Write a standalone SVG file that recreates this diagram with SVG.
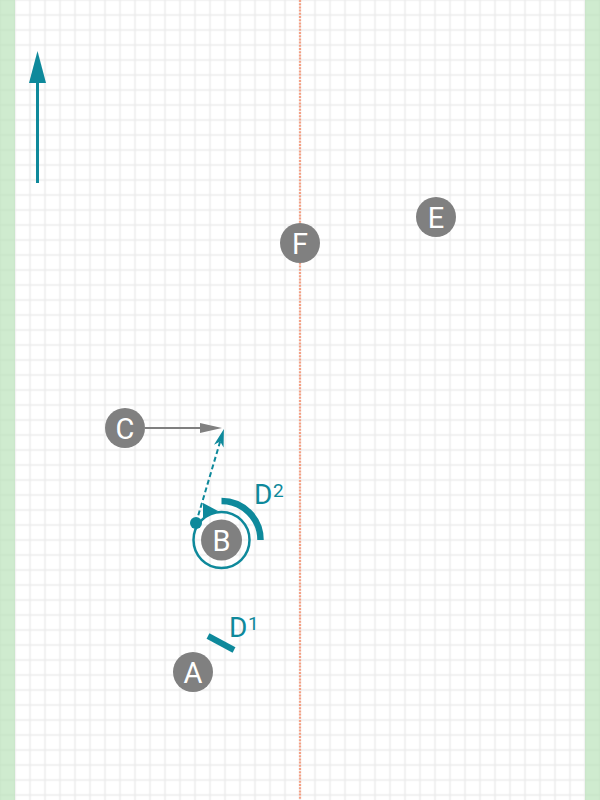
<svg xmlns="http://www.w3.org/2000/svg" width="600" height="800" viewBox="0 0 600 800">
  <style>
    .node circle { fill: #808080; }
    .node text { fill: #ffffff; font-family: Roboto, "Liberation Sans", sans-serif; font-size: 29px; font-weight: 400; text-anchor: middle; }
    .teal { fill: none; stroke: #0e899b; }
    .lbl { fill: #0e899b; font-family: Roboto, "Liberation Sans", sans-serif; font-weight: 400; }
  </style>
  <defs>
    <pattern id="grid" patternUnits="userSpaceOnUse" x="-7.5" y="-7.5" width="15" height="15">
      <path d="M7.5 0 V15 M0 7.5 H15" stroke="#ebebeb" stroke-width="1.5" fill="none"/>
    </pattern>
    <marker id="tealHead" viewBox="0 0 18 10" refX="5" refY="5" markerWidth="18" markerHeight="10" markerUnits="userSpaceOnUse" orient="auto">
      <path d="M0,0 L18,5 L0,10 L5,5 z" fill="#0e899b"/>
    </marker>
    <marker id="greyHead" viewBox="0 0 22 10" refX="0" refY="5" markerWidth="22" markerHeight="10" markerUnits="userSpaceOnUse" orient="auto">
      <path d="M0,0 L22,5 L0,10 z" fill="#808080"/>
    </marker>
  </defs>

  <g id="background">
    <rect x="0" y="0" width="600" height="800" fill="#ffffff"/>
    <rect x="0" y="0" width="600" height="800" fill="url(#grid)"/>
    <rect x="0" y="0" width="15" height="800" fill="#b5e0b5" opacity="0.65"/>
    <rect x="585" y="0" width="15" height="800" fill="#b5e0b5" opacity="0.65"/>
    <line x1="300" y1="0" x2="300" y2="800" stroke="#f4a084" stroke-width="2.2" stroke-dasharray="2 1.2"/>
  </g>

  <g id="north-arrow">
    <line x1="37.5" y1="183" x2="37.5" y2="80" stroke="#0e899b" stroke-width="3"/>
    <polygon points="37.5,51 29,83 46,83" fill="#0e899b"/>
  </g>

  <g id="connectors">
    <line x1="145" y1="428" x2="200" y2="428" stroke="#808080" stroke-width="2" marker-end="url(#greyHead)"/>
    <line x1="196" y1="523" x2="220.2" y2="441.4" stroke="#0e899b" stroke-width="2" stroke-dasharray="5 3" marker-end="url(#tealHead)"/>
  </g>

  <g id="node-F" class="node">
    <circle cx="300" cy="243" r="20"/>
    <text x="300" y="253.5">F</text>
  </g>
  <g id="node-E" class="node">
    <circle cx="436" cy="217" r="20"/>
    <text x="436" y="227.5">E</text>
  </g>
  <g id="node-C" class="node">
    <circle cx="125" cy="428" r="20"/>
    <text x="125" y="438.5">C</text>
  </g>
  <g id="node-B">
    <path class="teal" d="M221.5,501 A39,39 0 0 1 260.5,540" stroke-width="6.5"/>
    <circle class="teal" cx="221.5" cy="540" r="28" stroke-width="2.5"/>
    <polygon points="203,503 218,511 203,518" fill="#0e899b"/>
    <circle cx="196" cy="523" r="6" fill="#0e899b"/>
    <g class="node">
      <circle cx="221.5" cy="540" r="20.5"/>
      <text x="221.5" y="550.5">B</text>
    </g>
  </g>
  <g id="label-D2">
    <text class="lbl" x="254" y="504" font-size="28">D</text>
    <text class="lbl" x="273" y="497" font-size="19">2</text>
  </g>
  <g id="node-A" class="node">
    <circle cx="193" cy="672" r="20"/>
    <text x="193" y="682.5">A</text>
  </g>
  <g id="label-D1">
    <line x1="208" y1="636" x2="234" y2="650" stroke="#0e899b" stroke-width="6"/>
    <text class="lbl" x="229" y="637" font-size="28">D</text>
    <text class="lbl" x="248" y="630" font-size="19">1</text>
  </g>
</svg>
